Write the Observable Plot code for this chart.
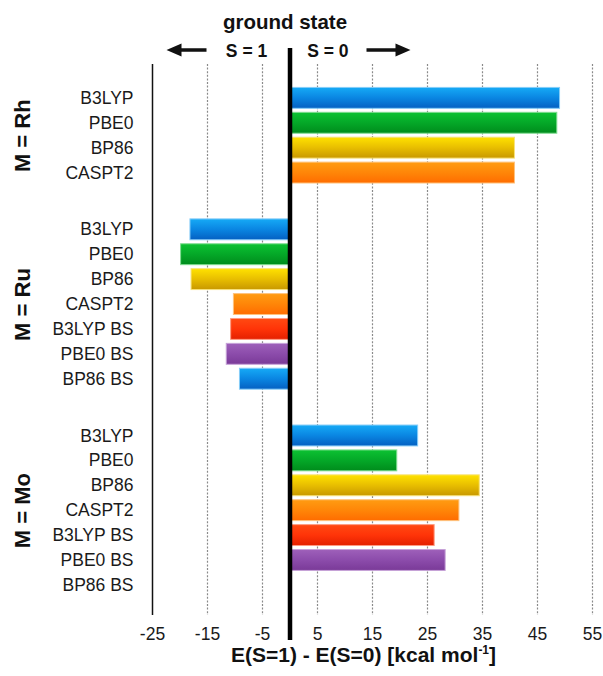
<!DOCTYPE html>
<html><head><meta charset="utf-8">
<script src="https://cdn.jsdelivr.net/npm/d3@7"></script>
<script src="https://cdn.jsdelivr.net/npm/@observablehq/plot@0.6"></script>
<style>body{margin:0;background:#fff}</style>
</head><body><div id="chart"></div>
<script>
// ---- data ----
const groupNames = ["M = Rh", "M = Ru", "M = Mo"];
const methodsRh = ["B3LYP", "PBE0", "BP86", "CASPT2"];
const valuesRh = [49.1, 48.6, 40.9, 40.9];
const methodsRu = ["B3LYP", "PBE0", "BP86", "CASPT2", "B3LYP BS", "PBE0 BS", "BP86 BS"];
const valuesRu = [-18.1, -19.8, -17.9, -10.2, -10.7, -11.5, -9.1];
const methodsMo = ["B3LYP", "PBE0", "BP86", "CASPT2", "B3LYP BS", "PBE0 BS", "BP86 BS"];
const valuesMo = [23.3, 19.5, 34.5, 30.8, 26.3, 28.3, null];
const xTicks = [-25, -15, -5, 5, 15, 25, 35, 45, 55];
const xTitle = "E(S=1) - E(S=0) [kcal mol";
const xTitleSup = "-1";
const headerTitle = "ground state";
const leftState = "S = 1";
const rightState = "S = 0";

// ---- styles ----
const gradients = {
  blue: ["#16aaf6", "#0a86e2", "#0560c2", "#86cdf8"],
  green: ["#0cc232", "#04a828", "#008c1c", "#7fdc90"],
  yellow: ["#ffe200", "#e8be00", "#c89800", "#f8e27a"],
  orange: ["#ff9c12", "#ff8608", "#ff6c00", "#ffc27c"],
  red: ["#ff4a12", "#ff3408", "#e42000", "#ff9a80"],
  purple: ["#9e60ba", "#8c4cab", "#7a3a98", "#c6a2d8"]
};
const methodColor = {
  "B3LYP": "blue", "PBE0": "green", "BP86": "yellow", "CASPT2": "orange",
  "B3LYP BS": "red", "PBE0 BS": "purple", "BP86 BS": "blue"
};
const groupGap = 1.28;   // extra blank space between groups, in rows
const font = "'Liberation Sans', Arial, Helvetica, sans-serif";

// ---- build rows ----
const groupsData = [
  [groupNames[0], methodsRh, valuesRh],
  [groupNames[1], methodsRu, valuesRu],
  [groupNames[2], methodsMo, valuesMo]
];
const rows = [];
const groupCenters = [];
let pos = 0;
groupsData.forEach(([g, ms, vs], gi) => {
  if (gi > 0) pos += groupGap;
  const start = pos;
  ms.forEach((m, i) => { rows.push({group: g, method: m, value: vs[i], pos}); pos += 1; });
  groupCenters.push({name: g, center: (start + pos - 1) / 2});
});
const lastPos = rows[rows.length - 1].pos;
const labelByPos = new Map(rows.map(d => [d.pos, d.method]));
const bars = rows.filter(d => d.value != null);

const defsMark = () => {
  const ns = "http://www.w3.org/2000/svg";
  const defs = document.createElementNS(ns, "defs");
  for (const [k, c] of Object.entries(gradients)) {
    const lg = document.createElementNS(ns, "linearGradient");
    lg.setAttribute("id", "grad-" + k);
    lg.setAttribute("x1", 0); lg.setAttribute("y1", 0);
    lg.setAttribute("x2", 0); lg.setAttribute("y2", 1);
    [[0, c[0]], [0.5, c[1]], [1, c[2]]].forEach(([o, col]) => {
      const s = document.createElementNS(ns, "stop");
      s.setAttribute("offset", o); s.setAttribute("stop-color", col);
      lg.appendChild(s);
    });
    defs.appendChild(lg);
  }
  return defs;
};

const arrowsMark = (index, scales) => {
  const ns = "http://www.w3.org/2000/svg";
  const g = document.createElementNS(ns, "g");
  const x0 = scales.x(0), y = 50;
  const mk = (tip, tail) => {
    const dir = Math.sign(tail - tip);
    const headLen = 15, headHalf = 6.5, shaft = 1.8;
    const hb = tip + dir * headLen;
    const p = document.createElementNS(ns, "path");
    p.setAttribute("d",
      `M${tip},${y}L${hb},${y - headHalf}L${hb},${y - shaft}L${tail},${y - shaft}` +
      `L${tail},${y + shaft}L${hb},${y + shaft}L${hb},${y + headHalf}Z`);
    p.setAttribute("fill", "#111");
    g.appendChild(p);
  };
  mk(x0 - 123, x0 - 83);
  mk(x0 + 121, x0 + 77);
  return g;
};

const titleMark = (index, scales, values, dims) => {
  const ns = "http://www.w3.org/2000/svg";
  const t = document.createElementNS(ns, "text");
  t.setAttribute("x", scales.x(0) + 74);
  t.setAttribute("y", dims.height - 14);
  t.setAttribute("text-anchor", "middle");
  t.setAttribute("font-weight", "bold");
  t.setAttribute("font-size", "21px");
  t.setAttribute("fill", "#111");
  const a = document.createElementNS(ns, "tspan"); a.textContent = xTitle;
  const b = document.createElementNS(ns, "tspan"); b.textContent = xTitleSup;
  b.setAttribute("font-size", "12px"); b.setAttribute("dy", "-8");
  const c = document.createElementNS(ns, "tspan"); c.textContent = "]";
  c.setAttribute("dy", "8");
  t.append(a, b, c);
  return t;
};

const chart = Plot.plot({
  width: 603,
  height: 676,
  marginLeft: 152,
  marginRight: 11,
  marginTop: 64,
  marginBottom: 61,
  style: {fontFamily: font, fontSize: "17px", color: "#1a1a1a", background: "#fff", overflow: "visible"},
  x: {domain: [-25, 55], label: null},
  y: {domain: [lastPos + 1.21, -1.36], label: null},
  color: {type: "identity"},
  marks: [
    defsMark,
    Plot.ruleX(xTicks.filter(t => t !== -25), {stroke: "#8a8a8a", strokeDasharray: "2,1.6", strokeWidth: 1.2}),
    Plot.ruleX([-25], {stroke: "#111", strokeWidth: 1.5}),
    Plot.rect(bars, {
      x1: 0, x2: "value",
      y1: d => d.pos - 0.5, y2: d => d.pos + 0.5,
      insetTop: 2, insetBottom: 2,
      fill: d => `url(#grad-${methodColor[d.method]})`,
      stroke: d => gradients[methodColor[d.method]][3],
      strokeWidth: 1
    }),
    Plot.ruleX([0], {stroke: "#000", strokeWidth: 4.5, insetTop: -16, insetBottom: -25}),
    Plot.axisY({ticks: rows.map(d => d.pos), tickFormat: p => labelByPos.get(p), tickSize: 0, tickPadding: 19, fontSize: 17.5, label: null}),
    Plot.axisX({ticks: xTicks, tickFormat: d => String(d), tickSize: 0, tickPadding: 12, fontSize: 17.5, label: null}),
    Plot.text(groupCenters, {y: "center", text: "name", frameAnchor: "left", textAnchor: "middle", dx: -130, rotate: -90, fontWeight: "bold", fontSize: 22, fill: "#111"}),
    Plot.text([headerTitle], {x: 0, text: d => d, frameAnchor: "top", lineAnchor: "bottom", dy: -36, dx: -5, fontWeight: "bold", fontSize: 20.5, fill: "#111"}),
    Plot.text([leftState], {x: 0, text: d => d, frameAnchor: "top", lineAnchor: "bottom", dy: -7.5, dx: -22.8, textAnchor: "end", fontWeight: "bold", fontSize: 17.5, fill: "#111"}),
    Plot.text([rightState], {x: 0, text: d => d, frameAnchor: "top", lineAnchor: "bottom", dy: -7.5, dx: 17.2, textAnchor: "start", fontWeight: "bold", fontSize: 17.5, fill: "#111"}),
    arrowsMark,
    titleMark
  ]
});
document.getElementById("chart").appendChild(chart);
</script>
</body></html>
